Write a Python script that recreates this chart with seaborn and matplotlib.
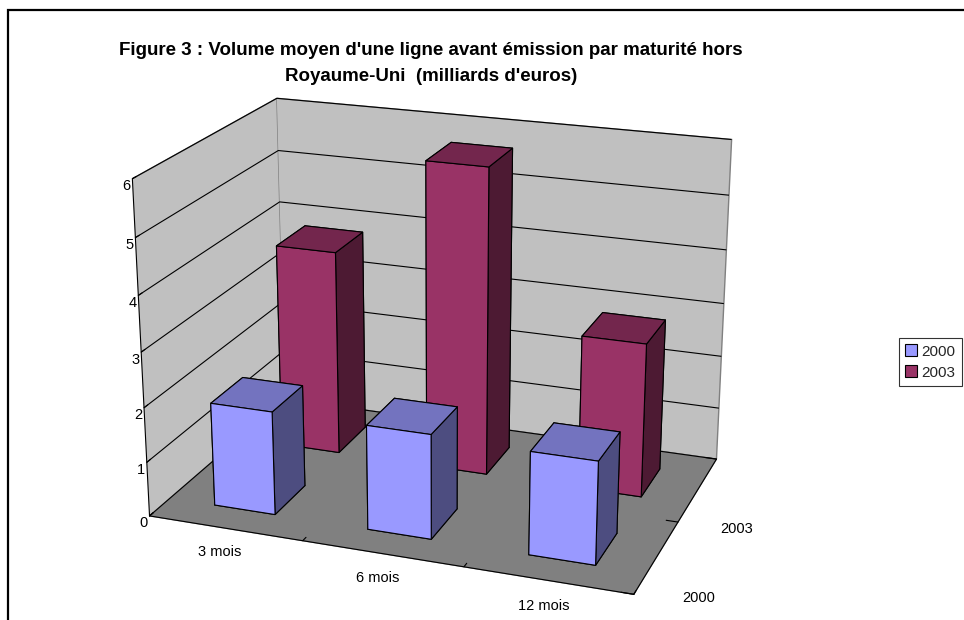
import numpy as np
import pandas as pd
import seaborn as sns
import matplotlib
matplotlib.use("Agg")
import matplotlib.pyplot as plt
from matplotlib.patches import Patch, Rectangle

# Data: average volume per line before issuance, by maturity (billions of euros)
categories = ["3 mois", "6 mois", "12 mois"]
series = ["2000", "2003"]
values_2000 = [1.9, 1.9, 1.85]
values_2003 = [3.85, 5.7, 2.85]
z_ticks = [0, 1, 2, 3, 4, 5, 6]

df = pd.DataFrame({
    "maturite": categories * 2,
    "annee": [series[0]] * 3 + [series[1]] * 3,
    "volume": values_2000 + values_2003,
})

sns.set_theme(style="white")
plt.rcParams["font.family"] = ["Liberation Sans", "DejaVu Sans"]

# Excel-like palette: front face, top face, side face
face_colors = {
    "2000": ("#9999FF", "#7373BF", "#4D4D80"),
    "2003": ("#993366", "#73264D", "#4D1A33"),
}

fig = plt.figure(figsize=(9.64, 6.2), dpi=100)
ax = fig.add_axes([0.02, 0.0, 0.86, 0.92], projection="3d")

bar_w = 0.4
bar_d = 0.45
cat_idx = {c: i for i, c in enumerate(categories)}
ser_idx = {s: i for i, s in enumerate(series)}

xs, ys, dz, cols = [], [], [], []
for _, row in df.iterrows():
    xs.append(cat_idx[row["maturite"]] - bar_w / 2)
    ys.append(ser_idx[row["annee"]] - bar_d / 2)
    dz.append(row["volume"])
    front, top, side = face_colors[row["annee"]]
    # face order: bottom, top, -Y (front), +Y (back), -X (left), +X (right)
    cols.extend([front, top, front, front, side, side])

ax.bar3d(xs, ys, np.zeros(len(xs)), bar_w, bar_d, dz,
         color=cols, shade=False, edgecolor="black", linewidth=0.8)

ax.set_xlim(-0.5, len(categories) - 0.5)
ax.set_ylim(-0.5, len(series) - 0.5)
ax.set_zlim(0, 6)
ax.set_box_aspect((3, 2.0, 2.1), zoom=1.18)
ax.view_init(elev=20, azim=-70)
ax.set_proj_type("persp", focal_length=0.7)

# walls and floor
ax.xaxis.set_pane_color("#C0C0C0")
ax.yaxis.set_pane_color("#C0C0C0")
ax.zaxis.set_pane_color("#808080")
for axis in (ax.xaxis, ax.yaxis, ax.zaxis):
    axis.pane.set_edgecolor("#808080")
    axis.line.set_color("black")
    axis.line.set_linewidth(0.8)

# horizontal gridlines on the walls only
ax.grid(True)
for axis in (ax.xaxis, ax.yaxis):
    axis._axinfo["grid"]["color"] = (1, 1, 1, 0)
    axis._axinfo["grid"]["linewidth"] = 0
ax.zaxis._axinfo["grid"]["color"] = "black"
ax.zaxis._axinfo["grid"]["linewidth"] = 0.8
ax.zaxis._axinfo["grid"]["linestyle"] = "-"

# value axis on the front-left edge
ax.zaxis.set_ticks_position("lower")

# labels on major ticks (no mark), marks on minor ticks between categories
ax.set_xticks(range(len(categories)))
ax.set_xticklabels(categories, fontsize=10.5)
ax.set_xticks(np.arange(-0.5, len(categories), 1.0), minor=True)
ax.set_yticks(range(len(series)))
ax.set_yticklabels(series, fontsize=10.5)
ax.set_yticks(np.arange(-0.5, len(series), 1.0), minor=True)
ax.set_zticks(z_ticks)
ax.set_zticklabels([str(t) for t in z_ticks], fontsize=10.5)
for axis in (ax.xaxis, ax.yaxis):
    axis._axinfo["tick"]["linewidth"] = {True: 0.0, False: 0.8}
ax.zaxis._axinfo["tick"]["linewidth"] = {True: 0.8, False: 0.8}
for axis in (ax.xaxis, ax.yaxis, ax.zaxis):
    axis._axinfo["tick"]["inward_factor"] = 0.0
    axis._axinfo["tick"]["outward_factor"] = 0.3
ax.tick_params(axis="both", which="both", colors="black")
ax.zaxis.set_tick_params(pad=-6)
ax.xaxis.set_tick_params(pad=0)
ax.yaxis.set_tick_params(pad=10)

fig.text(0.447, 1 - 42 / 620,
         "Figure 3 : Volume moyen d'une ligne avant émission par maturité hors\n"
         "Royaume-Uni  (milliards d'euros)",
         ha="center", va="top", fontsize=13.5, fontweight="bold",
         linespacing=1.7, color="black")

handles = [Patch(facecolor=face_colors[s][0], edgecolor="black", linewidth=0.8)
           for s in series]
leg = fig.legend(handles, series, loc="center left",
                 bbox_to_anchor=(891 / 964, 1 - 362 / 620), fontsize=11,
                 frameon=True, fancybox=False, edgecolor="black",
                 handlelength=0.8, handleheight=0.8, handletextpad=0.3,
                 borderpad=0.4, labelspacing=0.45)
leg.get_frame().set_linewidth(0.8)

# chart area border
fig.patches.append(Rectangle((8 / 964, -0.1), 1.2, 1.1 - 10 / 620,
                             transform=fig.transFigure, fill=False,
                             edgecolor="black", linewidth=1.6))

fig.savefig("out.png", dpi=100)
